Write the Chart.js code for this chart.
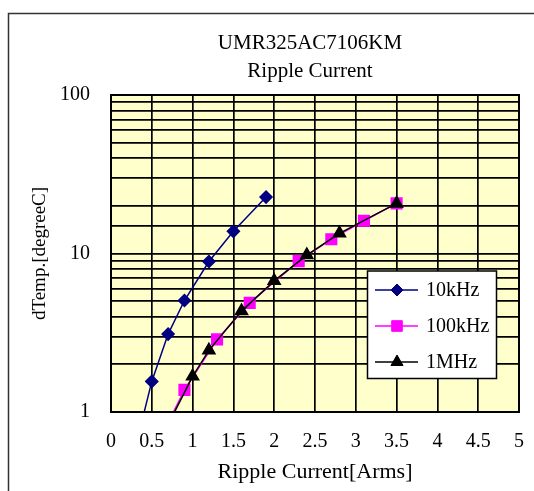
<!DOCTYPE html>
<html>
<head>
<meta charset="utf-8">
<script src="https://cdn.jsdelivr.net/npm/chart.js@4"></script>
<style>
html,body{margin:0;padding:0;background:#fff;}
#wrap{width:534px;height:491px;position:relative;}
</style>
</head>
<body>
<div id="wrap"><canvas id="c" width="534" height="491"></canvas></div>
<script>
const chartTitle = ['UMR325AC7106KM', 'Ripple Current'];
const xTitle = 'Ripple Current[Arms]';
const yTitle = 'dTemp.[degreeC]';
const seriesNames = ['10kHz', '100kHz', '1MHz'];

const x10k = [0.3, 0.5, 0.7, 0.9, 1.2, 1.5, 1.9];
const y10k = [0.6, 1.56, 3.1, 5.05, 8.9, 13.8, 22.7];

const x100k = [0.5, 0.9, 1.3, 1.7, 2.3, 2.7, 3.1, 3.5];
const y100k = [0.53, 1.38, 2.87, 4.88, 8.95, 12.3, 16.1, 20.7];

const x1M = [0.5, 1.0, 1.2, 1.6, 2.0, 2.4, 2.8, 3.5];
const y1M = [0.52, 1.68, 2.45, 4.33, 6.72, 9.77, 13.4, 20.7];

const xTicks = [0, 0.5, 1, 1.5, 2, 2.5, 3, 3.5, 4, 4.5, 5];

function pts(xs, ys) { return xs.map((x, i) => ({x: x, y: ys[i]})); }

const FONT = "'Liberation Serif', 'Times New Roman', serif";

const bgPlugin = {
  id: 'bg',
  beforeDraw(chart) {
    const {ctx, chartArea: a} = chart;
    ctx.save();
    ctx.fillStyle = '#FFFFCC';
    ctx.fillRect(a.left, a.top, a.right - a.left, a.bottom - a.top);
    ctx.restore();
  },
  afterDraw(chart) {
    const {ctx, chartArea: a} = chart;
    ctx.save();
    // outer frame
    ctx.strokeStyle = '#333';
    ctx.lineWidth = 1.5;
    ctx.strokeRect(8.5, 13.5, 600, 600);
    // chart title
    ctx.fillStyle = '#000';
    ctx.font = '21px ' + FONT;
    ctx.textAlign = 'center';
    ctx.textBaseline = 'middle';
    ctx.fillText(chartTitle[0], 310, 43);
    ctx.fillText(chartTitle[1], 310, 71);
    // plot border
    ctx.strokeStyle = '#000';
    ctx.lineWidth = 2;
    ctx.strokeRect(a.left, a.top, a.right - a.left, a.bottom - a.top);
    // legend
    const L = 367.5, T = 271, R = 496.5, B = 378.5;
    ctx.fillStyle = '#fff';
    ctx.fillRect(L, T, R - L, B - T);
    ctx.strokeStyle = '#000';
    ctx.lineWidth = 1.5;
    ctx.strokeRect(L, T, R - L, B - T);
    const rows = [290, 326, 362];
    chart.data.datasets.forEach((ds, i) => {
      const y = rows[i];
      ctx.strokeStyle = ds.borderColor;
      ctx.lineWidth = 1.5;
      ctx.beginPath();
      ctx.moveTo(375, y);
      ctx.lineTo(418, y);
      ctx.stroke();
      ctx.fillStyle = ds.pointBackgroundColor;
      ctx.strokeStyle = ds.pointBorderColor;
      ctx.lineWidth = 1;
      Chart.helpers.drawPoint(ctx, {pointStyle: ds.pointStyle, radius: ds.pointRadius, borderWidth: 1}, 397, y);
      ctx.fillStyle = '#000';
      ctx.font = '20px ' + FONT;
      ctx.textBaseline = 'middle';
      ctx.textAlign = 'left';
      ctx.fillText(ds.label, 426, y + 1);
    });
    ctx.restore();
  }
};

new Chart(document.getElementById('c'), {
  type: 'scatter',
  data: {
    datasets: [
      {label: seriesNames[0], data: pts(x10k, y10k), showLine: true, borderColor: '#000080', backgroundColor: '#000080',
       pointBackgroundColor: '#000080', pointBorderColor: '#000080', pointStyle: 'rectRot', pointRadius: 6, borderWidth: 1.5, order: 0},
      {label: seriesNames[1], data: pts(x100k, y100k), showLine: true, borderColor: '#FF00FF', backgroundColor: '#FF00FF',
       pointBackgroundColor: '#FF00FF', pointBorderColor: '#FF00FF', pointStyle: 'rect', pointRadius: 7.5, borderWidth: 1.5, order: 2},
      {label: seriesNames[2], data: pts(x1M, y1M), showLine: true, borderColor: '#000000', backgroundColor: '#000000',
       pointBackgroundColor: '#000000', pointBorderColor: '#000000', pointStyle: 'triangle', pointRadius: 7, borderWidth: 1.5, order: 1}
    ]
  },
  options: {
    responsive: false,
    animation: false,
    events: [],
    layout: {padding: {left: 0, right: 15, top: 95, bottom: 0}},
    plugins: {
      legend: {display: false},
      tooltip: {enabled: false},
      title: {display: false}
    },
    scales: {
      x: {
        type: 'linear',
        min: 0, max: 5,
        afterBuildTicks(scale) { scale.ticks = xTicks.map(v => ({value: v})); },
        afterFit(scale) { scale.height = 79; scale.paddingLeft = 0; scale.paddingRight = 0; },
        grid: {color: '#000', lineWidth: 1.7, drawTicks: false},
        border: {display: false},
        ticks: {color: '#000', font: {family: FONT, size: 20}, padding: 18, maxRotation: 0, autoSkip: false,
                callback: v => String(v)},
        title: {display: true, text: xTitle, color: '#000', font: {family: FONT, size: 22}, padding: {top: 0, bottom: 6}}
      },
      y: {
        type: 'logarithmic',
        min: 1, max: 100,
        afterFit(scale) { scale.width = 111; scale.paddingTop = 0; scale.paddingBottom = 0; },
        grid: {color: '#000', lineWidth: 1.7, drawTicks: false},
        border: {display: false},
        ticks: {color: '#000', font: {family: FONT, size: 20}, padding: 21, autoSkip: false,
                callback: function(v) { const l = Math.log10(v); return Math.abs(l - Math.round(l)) < 1e-9 ? String(v) : ''; }},
        title: {display: true, text: yTitle, color: '#000', font: {family: FONT, size: 19}, padding: {top: 29, bottom: 0}}
      }
    }
  },
  plugins: [bgPlugin]
});
</script>
</body>
</html>
